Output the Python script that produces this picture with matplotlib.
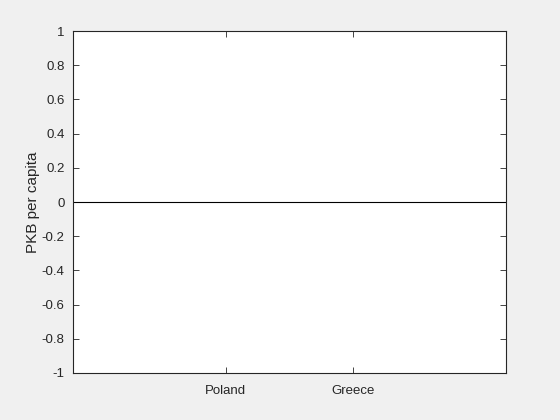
import matplotlib
matplotlib.use("Agg")
import matplotlib.pyplot as plt

countries = ["Poland", "Greece"]
pkb = [0, 0]
positions = [1, 2]
yticks = [-1, -0.8, -0.6, -0.4, -0.2, 0, 0.2, 0.4, 0.6, 0.8, 1]

plt.rcParams['font.family'] = ['Liberation Sans', 'DejaVu Sans']
plt.rcParams['axes.unicode_minus'] = False

fig = plt.figure(figsize=(5.6, 4.2), dpi=100, facecolor='#f0f0f0')
ax = fig.add_axes([0.13, 0.112, 0.773, 0.814])
ax.set_facecolor('white')

ax.bar(positions, pkb, width=0.8, color='#0072bd', edgecolor='black', linewidth=0.5)
ax.axhline(0, color='black', linewidth=0.8)

ax.set_xlim(-0.2, 3.2)
ax.set_ylim(-1, 1)
ax.set_xticks(positions)
ax.set_xticklabels(countries)
ax.set_yticks(yticks)
ax.set_yticklabels(['%g' % v for v in yticks])
ax.set_ylabel('PKB per capita', fontsize=11, color='#262626', labelpad=1)

ax.tick_params(direction='in', length=4, width=0.6, top=True, right=True,
               labelsize=9.5, colors='#262626')
ax.tick_params(axis='x', pad=9)
ax.tick_params(axis='y', pad=6)
for s in ax.spines.values():
    s.set_color('#262626')
    s.set_linewidth(0.8)

fig.savefig('out.png', dpi=100, facecolor=fig.get_facecolor())
